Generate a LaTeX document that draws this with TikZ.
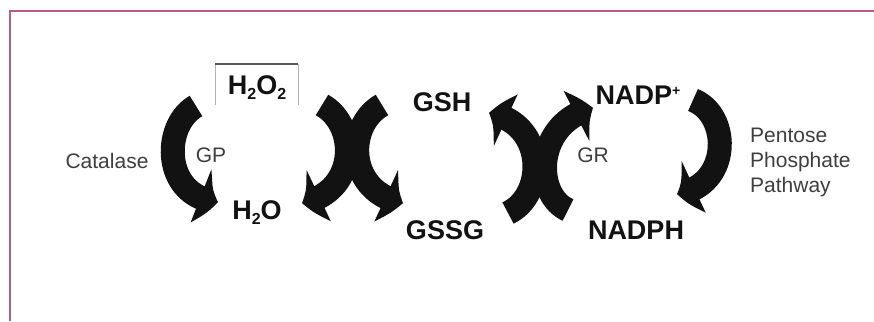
\documentclass[tikz,border=0pt]{standalone}
\usepackage{fontspec}
\setmainfont{Liberation Sans}
\usetikzlibrary{arrows.meta,bending}
\definecolor{framec}{RGB}{184,92,128}
\definecolor{ink}{RGB}{18,18,18}
\definecolor{greytxt}{RGB}{62,62,62}
\newcommand\mysub[1]{\raisebox{-5pt}{\fontsize{16}{16}\selectfont #1}}
\newcommand\mysup[1]{\raisebox{9pt}{\fontsize{14}{14}\selectfont #1}}
\begin{document}
\begin{tikzpicture}[x=1pt,y=-1pt,
  bigtxt/.style={text=ink, font=\bfseries\fontsize{27}{27}\selectfont, inner sep=0pt},
  smalltxt/.style={text=greytxt, font=\fontsize{21}{21}\selectfont, inner sep=0pt},
  curvedarrow/.style={draw=ink, line width=24pt, -{Triangle[width=54pt,length=19pt,bend]}}]
\useasboundingbox (0,0) rectangle (874,321);
% frame
\draw[framec, line width=1.6pt] (10,321) -- (10,11) -- (874,11);
% texts
\node[smalltxt] (catalase) at (107,161) {Catalase};
\node[smalltxt] (gp) at (211,155) {GP};
\node[bigtxt] (h2o2) at (257,88) {H\mysub{2}O\mysub{2}};
\node[bigtxt] (h2o) at (257,213) {H\mysub{2}O};
\node[bigtxt] (gsh) at (442,102) {GSH};
\node[bigtxt] (gssg) at (445,230) {GSSG};
\node[smalltxt] (gr) at (593,155) {GR};
\node[bigtxt] (nadp) at (638,95) {NADP\mysup{+}};
\node[bigtxt] (nadph) at (636,230) {NADPH};
\node[smalltxt, align=left, anchor=west, font=\fontsize{21}{25}\selectfont] (ppp) at (750,162) {Pentose\\Phosphate\\Pathway};
% box over H2O2
\coordinate (bl) at (215,105); \coordinate (tl) at (215,64);
\coordinate (tr) at (298,64); \coordinate (br) at (298,105);
\draw[gray!60, line width=0.8pt] (bl) -- (tl);
\draw[gray!60, line width=0.8pt] (tr) -- (br);
\draw[black!65, line width=1.3pt] (tl) -- (tr);
% curved arrows
\coordinate (a1s) at (196,106); \coordinate (a1e) at (218,202);
\draw[curvedarrow] (a1s) .. controls (162,125) and (162,197) .. (a1e);
\coordinate (a2s) at (322,105); \coordinate (a2e) at (302,203);
\draw[curvedarrow] (a2s) .. controls (358,125) and (358,192) .. (a2e);
\coordinate (a3s) at (382,105); \coordinate (a3e) at (403,203);
\draw[curvedarrow] (a3s) .. controls (346,125) and (346,192) .. (a3e);
\coordinate (a4s) at (508,213); \coordinate (a4e) at (489,113);
\draw[curvedarrow] (a4s) .. controls (546,195) and (546,123) .. (a4e);
\coordinate (a5s) at (568,210); \coordinate (a5e) at (593,108);
\draw[curvedarrow] (a5s) .. controls (534,195) and (534,123) .. (a5e);
\coordinate (a6s) at (693,100); \coordinate (a6e) at (677,194);
\draw[curvedarrow] (a6s) .. controls (731,115) and (731,186) .. (a6e);
\end{tikzpicture}
\end{document}
